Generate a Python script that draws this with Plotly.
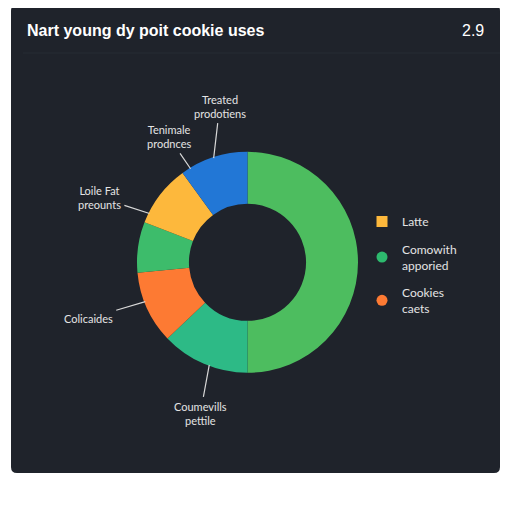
import math
import plotly.graph_objects as go

# slices, clockwise from 12 o'clock
slice_names = ["Comowith main", "Coumevills pettile", "Colicaides", "Side", "Loile Fat", "Treated prodotiens"]
slice_values = [50.0, 12.9, 10.6, 7.4, 9.1, 10.0]
slice_colors = ["#4dbd5f", "#2dba86", "#fd7a33", "#3dbc6b", "#fdb83c", "#2277d6"]

# callout labels: text, slice index, position inside slice (0..1)
callout_text = ["Treated<br>prodotiens", "Tenimale<br>prodnces", "Loile Fat<br>preounts", "Colicaides", "Coumevills<br>pettile"]
callout_slice = [5, 5, 4, 2, 1]
callout_frac = [0.5, 0.13, 0.16, 0.59, 0.44]
callout_off = [(6, -52), (-22, -32), (-50, -16), (-57, 17), (-9, 49)]

legend_names = ["Latte", "Comowith<br>apporied", "Cookies<br>caets"]
legend_colors = ["#fdb83c", "#2dba6e", "#fd7a33"]
legend_symbols = ["square", "circle", "circle"]

W = H = 512
S = 8  # page body margin
card = "#1f232b"
cx, cy, R = 247.5 - S, 262.3 - S, 110.5

def px_x(x):
    return (x - S) / W
def px_y(y):
    return 1 - (y - S) / H

fig = go.Figure()
fig.add_trace(go.Pie(
    labels=slice_names, values=slice_values, sort=False, direction="clockwise",
    rotation=0, hole=0.53, marker=dict(colors=slice_colors, line=dict(width=0)),
    textinfo="none", hoverinfo="label+percent", showlegend=False,
    domain=dict(x=[(cx - R) / W, (cx + R) / W], y=[1 - (cy + R) / H, 1 - (cy - R) / H]),
))

for name, col, sym in zip(legend_names, legend_colors, legend_symbols):
    fig.add_trace(go.Scatter(x=[None], y=[None], mode="markers", name=name, legendgroup=name,
                             marker=dict(color=col, symbol=sym, size=11)))

total = sum(slice_values)
starts = [sum(slice_values[:i]) for i in range(len(slice_values))]
anns = []
for txt, si, f, (ax, ay) in zip(callout_text, callout_slice, callout_frac, callout_off):
    ang = math.radians((starts[si] + f * slice_values[si]) / total * 360)
    px = cx + (R - 1) * math.sin(ang)
    py = cy - (R - 1) * math.cos(ang)
    anns.append(dict(x=px / W, y=1 - py / H, xref="paper", yref="paper", text=txt,
                     showarrow=True, arrowhead=0, arrowwidth=1.2, arrowcolor="#d8d8d8",
                     ax=ax, ay=ay, standoff=0, startstandoff=2,
                     font=dict(size=11, color="#e4e4e4", family="Lato, Inter, sans-serif")))

anns.append(dict(x=px_x(25), y=px_y(30), xref="paper", yref="paper", xanchor="left", yanchor="middle",
                 text="<b>Nart young dy poit cookie uses</b>", showarrow=False,
                 font=dict(size=16, color="#ffffff", family="Liberation Sans, Arial, sans-serif")))
anns.append(dict(x=px_x(486), y=px_y(30), xref="paper", yref="paper", xanchor="right", yanchor="middle",
                 text="2.9", showarrow=False,
                 font=dict(size=16, color="#ffffff", family="Liberation Sans, Arial, sans-serif")))

# rounded card
x0, x1, y0, y1, r = 11, 500, 5, 473, 6
def P(x, y):
    return f"{px_x(x):.5f},{px_y(y):.5f}"
card_path = (f"M {P(x0 + r, y0)} L {P(x1 - r, y0)} Q {P(x1, y0)} {P(x1, y0 + r)} "
             f"L {P(x1, y1 - r)} Q {P(x1, y1)} {P(x1 - r, y1)} L {P(x0 + r, y1)} "
             f"Q {P(x0, y1)} {P(x0, y1 - r)} L {P(x0, y0 + r)} Q {P(x0, y0)} {P(x0 + r, y0)} Z")

fig.update_layout(
    width=W, height=H, margin=dict(l=0, r=0, t=0, b=0),
    paper_bgcolor="#ffffff", plot_bgcolor="rgba(0,0,0,0)",
    xaxis=dict(visible=False), yaxis=dict(visible=False),
    shapes=[
        dict(type="path", path=card_path, xref="paper", yref="paper", fillcolor=card,
             line=dict(width=0), layer="below"),
        dict(type="line", x0=px_x(23), x1=px_x(500), y0=px_y(53), y1=px_y(53), xref="paper", yref="paper",
             line=dict(color="#272c35", width=1)),
    ],
    annotations=anns,
    legend=dict(x=px_x(362), y=px_y(207), xanchor="left", yanchor="top", bgcolor="rgba(0,0,0,0)",
                tracegroupgap=9, font=dict(size=12, color="#e4e4e4", family="Lato, Inter, sans-serif")),
)

fig.write_html("out.html")
